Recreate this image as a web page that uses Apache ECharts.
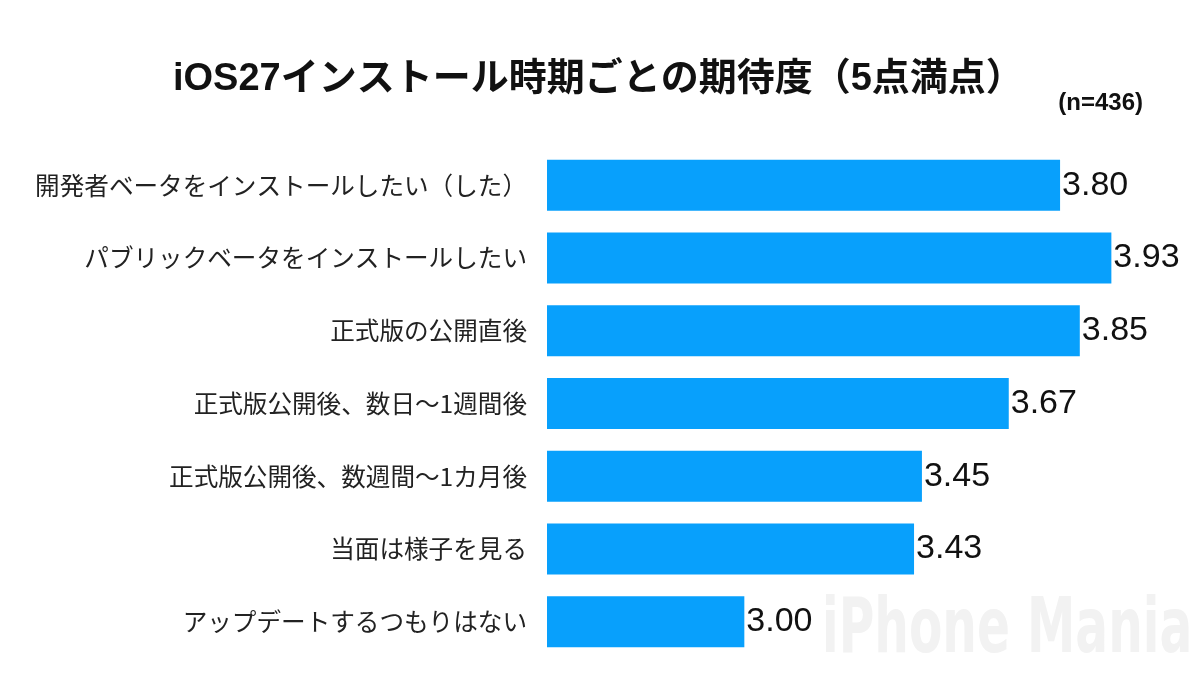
<!DOCTYPE html>
<html>
<head>
<meta charset="utf-8">
<script src="https://cdn.jsdelivr.net/npm/echarts@6/dist/echarts.min.js"></script>
<style>
html,body{margin:0;padding:0;background:#fff;}
#chart{width:1200px;height:675px;}
</style>
</head>
<body>
<div id="chart"></div>
<script>
// 項目
const categories = [
    '開発者ベータをインストールしたい（した）',
    'パブリックベータをインストールしたい',
    '正式版の公開直後',
    '正式版公開後、数日〜1週間後',
    '正式版公開後、数週間〜1カ月後',
    '当面は様子を見る',
    'アップデートするつもりはない'
];
// 期待度（5点満点）
const scores = [3.80, 3.93, 3.85, 3.67, 3.45, 3.43, 3.00];

const chart = echarts.init(document.getElementById('chart'));
chart.setOption({
    backgroundColor: '#fff',
    animation: false,
    title: [{
        text: 'iOS27インストール時期ごとの期待度（5点満点）',
        left: 168,
        top: 56,
        textStyle: {
            fontFamily: 'Liberation Sans, Noto Sans CJK JP',
            fontSize: 38,
            fontWeight: 'bold',
            color: '#111'
        }
    }, {
        text: '(n=436)',
        right: 52,
        top: 86,
        textStyle: {
            fontFamily: 'Liberation Sans',
            fontSize: 24,
            fontWeight: 'bold',
            color: '#111'
        }
    }],
    graphic: [{
        // 透かし
        type: 'text',
        x: 822,
        y: 594,
        scaleX: 0.64,
        z: -1,
        silent: true,
        style: {
            text: 'iPhone Mania',
            fontFamily: 'DejaVu Sans',
            fontWeight: 'bold',
            fontSize: 76,
            verticalAlign: 'top',
            fill: '#f2f2f2'
        }
    }],
    grid: {
        left: 547,
        right: 61,
        top: 149,
        bottom: 17
    },
    xAxis: {
        type: 'value',
        min: 2.5,
        max: 4,
        show: false
    },
    yAxis: {
        type: 'category',
        data: categories,
        inverse: true,
        axisLine: {show: false},
        axisTick: {show: false},
        axisLabel: {
            margin: 20,
            fontFamily: 'Noto Sans CJK JP',
            fontSize: 24.6,
            color: '#222'
        }
    },
    series: [{
        type: 'bar',
        data: scores,
        barWidth: 51,
        itemStyle: {color: '#08a0fc'},
        label: {
            show: true,
            position: 'right',
            distance: 2,
            formatter: p => p.value.toFixed(2),
            fontFamily: 'Liberation Sans',
            fontSize: 34,
            color: '#111'
        }
    }]
});
</script>
</body>
</html>
